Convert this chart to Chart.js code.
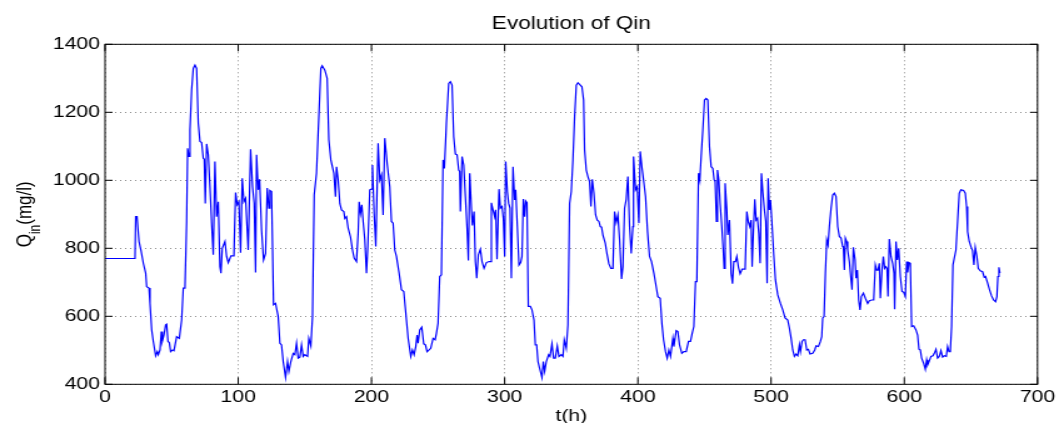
<!DOCTYPE html>
<html>
<head>
<meta charset="utf-8">
<script src="https://cdn.jsdelivr.net/npm/chart.js@4.4.1/dist/chart.umd.min.js"></script>
<style>
  html, body { margin: 0; padding: 0; background: #ffffff; }
  #c { display: block; width: 1059px; height: 423px; }
</style>
</head>
<body>
<canvas id="c" width="847" height="423" style="width:1059px;height:423px;"></canvas>
<script>
// ---- data ----
const titleText = 'Evolution of Qin';
const xTitle = 't(h)';
const yTitleMain = 'Q';
const yTitleSub = 'in';
const yTitleUnit = '(mg/l)';
const xTicks = [0, 100, 200, 300, 400, 500, 600, 700];
const yTicks = [400, 600, 800, 1000, 1200, 1400];

const hours = [
  0, 22.5, 23, 24, 25.5, 27, 28.75, 30.5, 31.25, 33, 33.75, 35, 36.25, 38, 39.25, 40, 41.25, 42.25, 43, 44.25,
  45.5, 46.25, 47.25, 48.25, 49.25, 50.75, 51.75, 53.75, 55.75, 57.5, 58.75, 60, 61.25, 62, 63, 63.75, 65, 66.25, 67.5, 68.75,
  70, 71.25, 72.5, 73.75, 74.5, 75.25, 76.25, 77.5, 78.75, 80, 81.25, 82.5, 83.75, 85, 86.25, 87, 88, 90, 91.25, 92.5,
  94.5, 96.75, 98, 99.25, 100.5, 101.75, 103, 104.25, 105.5, 107.5, 109.25, 110.75, 112, 113, 113.75, 115, 116, 117.5, 119, 120.5,
  121.75, 123, 123.75, 125, 126.5, 128, 130, 131.25, 132.5, 133.75, 135.5, 137, 138, 139.5, 141.25, 142.5, 143.75, 145, 146.25, 147.5,
  148.75, 150, 152, 153, 154.5, 155.75, 157, 158.75, 160.5, 162, 163, 165, 166.75, 168, 169.5, 171.75, 173, 173.75, 175, 176.25,
  177.5, 179.25, 180, 181.25, 182.5, 184.25, 185.75, 187, 188.75, 190, 190.75, 191.75, 192.75, 193.75, 195, 196.25, 197.25, 198.75, 200, 200.75,
  202, 203.25, 205, 206.25, 207.5, 208.75, 210, 211.75, 213.75, 215, 216.25, 217.5, 218.75, 220.75, 222.5, 224.25, 226.25, 227.5, 229.5, 230.75,
  232, 233.25, 234.25, 235, 236.25, 237.75, 239.25, 240.5, 241.75, 243.25, 244.5, 246.25, 247.75, 248.75, 250, 251.25, 252.5, 253.75, 254.75, 256.25,
  258, 259.25, 260.5, 261.75, 263, 264.25, 265.5, 266.25, 266.75, 268, 269.25, 270.5, 271.75, 272.75, 273.75, 275, 275.75, 277, 278, 279,
  280.25, 281.75, 283, 284.5, 286.25, 288.25, 289.25, 290, 291.25, 292.5, 293.25, 294.25, 295.75, 296.75, 298, 299, 300, 300.75, 302, 303,
  304, 305, 306.25, 307.5, 308.25, 309.5, 310.75, 312, 313, 314, 315, 315.75, 316.75, 317.75, 319.25, 320.5, 322, 323, 324, 325,
  326.25, 328, 329, 330, 331.25, 333, 334, 335.5, 336.75, 338, 339.5, 340.75, 342.5, 343.75, 344.75, 346.25, 347.5, 348.75, 350, 351.25,
  352.5, 353.75, 355, 356.75, 358, 359.25, 360, 361.25, 362.5, 363.75, 364.75, 365.75, 367, 368.25, 369.5, 370.75, 371.75, 372.75, 373.75, 375.5,
  376.75, 378.25, 379.75, 381.25, 382.5, 383.75, 385, 386.25, 387.75, 388.75, 390, 391.25, 392.5, 393.75, 395, 396.25, 396.75, 398.25, 399.5, 400.75,
  401.75, 403, 404.25, 405.75, 407.25, 408.75, 410.25, 412, 413.75, 415, 416.75, 418, 419.25, 420.75, 422, 423.25, 424.5, 426.25, 427, 428.75,
  430, 431.25, 433, 434.5, 436.25, 438, 439.5, 440.75, 442, 443.25, 444.25, 445.5, 446.5, 447.5, 448.75, 450, 451.25, 452.5, 453.75, 455,
  456.25, 457.25, 458, 459, 459.75, 460.75, 461.75, 463, 464, 464.75, 465.5, 466.75, 467.5, 468.75, 470, 471, 472, 473.25, 474.25, 475.5,
  476.75, 478.25, 480.5, 481.75, 483, 484, 485, 485.75, 486.75, 487.75, 488.75, 489.75, 490.75, 491.75, 492.75, 493.75, 495, 496, 497, 497.75,
  498.75, 499.5, 500.5, 502, 503.25, 505, 507, 508.75, 510.5, 512.5, 513.75, 515, 516.25, 517.5, 518.75, 520, 521.25, 522, 523.25, 524.25,
  525.5, 526.75, 528, 529.25, 531.25, 532.75, 533.75, 535.5, 537, 538, 538.75, 539.75, 540.75, 541.75, 542.75, 543.75, 545, 546.25, 547.5, 548.75,
  550, 551.25, 552.5, 553.75, 554.25, 555, 555.75, 556.75, 557.5, 558.75, 560, 560.75, 561.75, 563, 563.75, 564.75, 565.75, 566.75, 567.75, 569.25,
  570.75, 572.5, 573.75, 575.5, 577, 578.25, 579.25, 580.25, 581.25, 582, 583.25, 584.25, 585.25, 586.25, 587, 587.75, 588.75, 590, 591.25, 592.25,
  592.75, 593.75, 594.75, 595.75, 597, 598.25, 599.5, 600.75, 601.75, 602.5, 603.5, 604.5, 605.5, 607, 608.75, 610, 611, 612, 613, 614.5,
  615.75, 616.75, 617.5, 618.75, 620, 621.5, 622.5, 623.75, 625, 626.25, 627.5, 628.75, 630, 631.5, 632.5, 633.5, 634.5, 635.5, 636.5, 637.5,
  638.75, 640, 641.25, 642.5, 644.5, 645.75, 646.75, 647.5, 648.75, 650, 651.25, 652.25, 653.25, 654.5, 655.5, 657, 658.75, 660, 661, 662.5,
  664, 665.5, 667, 668.5, 669.5, 670.25, 671, 671.75
];

const qin = [
  770, 770, 893, 893, 820, 793, 756, 727, 687, 683, 638, 560, 526, 484, 496, 487, 501, 555, 526, 545,
  575, 577, 526, 523, 496, 501, 499, 540, 535, 589, 683, 683, 879, 1094, 1070, 1148, 1266, 1329, 1339, 1329,
  1168, 1114, 1111, 1065, 1062, 932, 1107, 1075, 981, 874, 781, 1055, 893, 937, 746, 727, 800, 820, 776, 758,
  778, 778, 964, 928, 937, 787, 1006, 937, 947, 795, 1091, 981, 932, 729, 1075, 972, 1003, 854, 766, 785,
  977, 918, 970, 967, 634, 638, 599, 521, 516, 467, 420, 467, 438, 467, 491, 487, 521, 477, 480, 516,
  482, 487, 482, 535, 513, 599, 957, 1021, 1187, 1329, 1337, 1324, 1300, 1119, 1060, 1021, 952, 1040, 1001, 932,
  913, 908, 888, 893, 859, 834, 795, 771, 761, 844, 937, 903, 928, 879, 825, 727, 805, 972, 974, 1045,
  903, 805, 1109, 1001, 1016, 898, 1124, 1050, 981, 879, 874, 795, 776, 727, 678, 673, 589, 536, 482, 501,
  487, 511, 545, 521, 560, 568, 519, 516, 496, 501, 506, 535, 531, 550, 580, 717, 722, 1060, 1035, 1168,
  1285, 1290, 1280, 1128, 1077, 1075, 1030, 1026, 908, 1070, 1045, 952, 859, 764, 1021, 918, 867, 908, 761, 712,
  781, 797, 761, 741, 758, 761, 761, 934, 913, 893, 913, 768, 974, 918, 923, 888, 776, 1055, 967, 932,
  918, 712, 1040, 942, 972, 864, 751, 758, 776, 945, 893, 939, 934, 629, 629, 619, 589, 516, 516, 467,
  447, 420, 467, 438, 467, 487, 482, 519, 477, 477, 513, 482, 487, 482, 531, 506, 575, 932, 967, 1060,
  1187, 1280, 1287, 1280, 1275, 1236, 1089, 1030, 1011, 996, 923, 1003, 962, 898, 883, 879, 864, 862, 839, 815,
  785, 754, 741, 741, 908, 876, 898, 825, 710, 746, 918, 944, 1011, 864, 785, 864, 1070, 972, 981, 874,
  1085, 1040, 1001, 952, 849, 776, 761, 727, 687, 658, 653, 580, 531, 496, 477, 501, 482, 535, 511, 558,
  555, 516, 491, 496, 496, 526, 526, 550, 570, 702, 702, 1021, 1001, 1070, 1148, 1236, 1241, 1236, 1099, 1040,
  1035, 1001, 996, 879, 1030, 1001, 932, 864, 800, 741, 991, 913, 839, 883, 727, 696, 761, 761, 776, 744,
  725, 739, 739, 908, 876, 864, 883, 746, 854, 944, 883, 888, 844, 756, 1021, 967, 913, 879, 697, 1006,
  913, 942, 883, 781, 707, 663, 638, 619, 595, 589, 565, 536, 501, 482, 489, 484, 516, 496, 526, 531,
  531, 501, 503, 489, 491, 501, 513, 511, 526, 540, 595, 599, 727, 825, 810, 864, 918, 957, 962, 952,
  864, 835, 830, 805, 805, 736, 830, 820, 795, 761, 707, 678, 803, 766, 712, 736, 648, 619, 658, 668,
  653, 638, 646, 648, 648, 751, 736, 736, 756, 653, 736, 776, 741, 746, 741, 658, 827, 776, 756, 727,
  621, 820, 766, 800, 717, 673, 671, 658, 761, 729, 758, 756, 570, 572, 560, 545, 503, 501, 477, 462,
  444, 472, 457, 469, 482, 484, 491, 503, 477, 482, 499, 480, 484, 482, 511, 496, 496, 570, 751, 771,
  795, 879, 962, 972, 970, 962, 923, 849, 820, 805, 793, 751, 803, 776, 741, 734, 731, 715, 717, 698,
  678, 660, 648, 643, 658, 717, 744, 727
];

// ---- chart ----
const FONT = '"Liberation Sans", Arial, Helvetica, sans-serif';
Chart.defaults.font.family = FONT;
Chart.defaults.color = '#000000';

const points = hours.map((h, i) => ({ x: h, y: qin[i] }));

const framePlugin = {
  id: 'matlabFrame',
  afterDraw(chart) {
    const { ctx, chartArea: a, scales: { x, y } } = chart;
    ctx.save();
    ctx.strokeStyle = '#000000';
    ctx.lineWidth = 1;
    ctx.beginPath();
    for (const v of xTicks) {
      const px = x.getPixelForValue(v);
      ctx.moveTo(px, a.bottom); ctx.lineTo(px, a.bottom - 7);
      ctx.moveTo(px, a.top); ctx.lineTo(px, a.top + 7);
    }
    for (const v of yTicks) {
      const py = y.getPixelForValue(v);
      ctx.moveTo(a.left, py); ctx.lineTo(a.left + 6, py);
      ctx.moveTo(a.right, py); ctx.lineTo(a.right - 6, py);
    }
    ctx.stroke();
    ctx.strokeRect(a.left, a.top, a.right - a.left, a.bottom - a.top);

    // y axis label with subscript
    const cy = (a.top + a.bottom) / 2;
    ctx.translate(24.5, cy);
    ctx.rotate(-Math.PI / 2);
    ctx.fillStyle = '#000000';
    ctx.textBaseline = 'alphabetic';
    ctx.textAlign = 'left';
    const mainFont = '17px ' + FONT;
    const subFont = '12px ' + FONT;
    ctx.font = mainFont; const wQ = ctx.measureText(yTitleMain).width; const wU = ctx.measureText(yTitleUnit).width;
    ctx.font = subFont; const wS = ctx.measureText(yTitleSub).width;
    const total = wQ + wS + wU;
    let sx = -total / 2;
    ctx.font = mainFont; ctx.fillText(yTitleMain, sx, 0); sx += wQ;
    ctx.font = subFont; ctx.fillText(yTitleSub, sx, 7); sx += wS;
    ctx.font = mainFont; ctx.fillText(yTitleUnit, sx, 0);
    ctx.restore();
  }
};

new Chart(document.getElementById('c'), {
  type: 'line',
  data: {
    datasets: [{
      data: points,
      borderColor: '#0000ff',
      borderWidth: 1.2,
      pointRadius: 0,
      fill: false,
      tension: 0
    }]
  },
  options: {
    responsive: false,
    animation: false,
    events: [],
    layout: { padding: { left: 0, right: 17, top: 0, bottom: 0 } },
    plugins: {
      legend: { display: false },
      tooltip: { enabled: false },
      title: {
        display: true,
        text: titleText,
        fullSize: false,
        color: '#000000',
        font: { size: 18, weight: 'normal', family: FONT, lineHeight: 1.2 },
        padding: { top: 13.4, bottom: 9.3 }
      }
    },
    scales: {
      x: {
        type: 'linear',
        min: 0, max: 700,
        afterBuildTicks: s => { s.ticks = xTicks.map(v => ({ value: v })); },
        afterFit: s => { s.height = 38.7; },
        grid: { drawTicks: false, color: 'rgba(0,0,0,0.45)', lineWidth: 1 },
        border: { display: false, dash: [1, 3] },
        ticks: { padding: 3, color: '#000000', font: { size: 17 }, maxRotation: 0, autoSkip: false, callback: v => String(v) },
        title: { display: true, text: xTitle, color: '#000000', font: { size: 17, lineHeight: 0.8 }, padding: 0 }
      },
      y: {
        type: 'linear',
        min: 400, max: 1400,
        afterBuildTicks: s => { s.ticks = yTicks.map(v => ({ value: v })); },
        afterFit: s => { s.width = 84; },
        grid: { drawTicks: false, color: 'rgba(0,0,0,0.45)', lineWidth: 1 },
        border: { display: false, dash: [1, 3] },
        ticks: { padding: 4, color: '#000000', font: { size: 17 }, autoSkip: false, callback: v => String(v) }
      }
    }
  },
  plugins: [framePlugin]
});
</script>
</body>
</html>
